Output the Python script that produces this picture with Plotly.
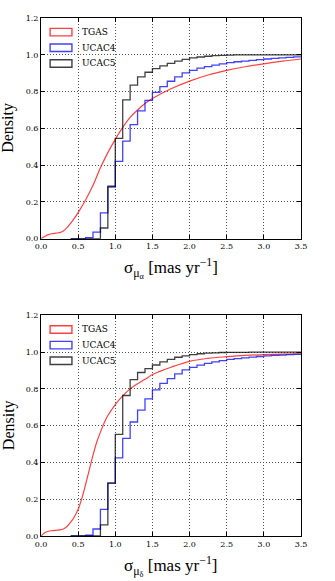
import plotly.graph_objects as go
from plotly.subplots import make_subplots

# bin edges of the cumulative step histograms (0.1 mas/yr bins, 0.4 .. 3.5)
edges = [round(0.4 + 0.1 * i, 1) for i in range(32)]

# --- proper-motion error in RA (top panel) ---
ucac4_alpha = [0, 0, 0.005, 0.036, 0.14, 0.28, 0.42, 0.53, 0.62, 0.695, 0.752,
               0.796, 0.827, 0.856, 0.88, 0.902, 0.915, 0.927, 0.936, 0.944,
               0.951, 0.957, 0.962, 0.966, 0.97, 0.974, 0.977, 0.98, 0.983,
               0.986, 0.989]
ucac5_alpha = [0, 0, 0, 0, 0.058, 0.285, 0.545, 0.755, 0.835, 0.88, 0.905,
               0.925, 0.94, 0.953, 0.965, 0.975, 0.983, 0.988, 0.992, 0.995,
               0.997, 0.998, 0.999, 0.999, 0.999, 1.0, 1.0, 1.0, 1.0, 1.0, 1.0]
tgas_x_alpha = [0, 0.05, 0.1, 0.15, 0.2, 0.25, 0.3, 0.35, 0.4, 0.45, 0.5, 0.6,
                0.7, 0.8, 0.9, 1.0, 1.1, 1.2, 1.3, 1.4, 1.5, 1.75, 2.0, 2.25,
                2.5, 2.75, 3.0, 3.25, 3.5]
tgas_alpha = [0, 0.012, 0.022, 0.027, 0.03, 0.033, 0.042, 0.06, 0.085, 0.112,
              0.142, 0.21, 0.29, 0.385, 0.468, 0.54, 0.605, 0.66, 0.70, 0.735,
              0.762, 0.815, 0.857, 0.89, 0.915, 0.935, 0.951, 0.965, 0.977]

# --- proper-motion error in Dec (bottom panel) ---
ucac4_delta = [0, 0, 0.004, 0.038, 0.145, 0.287, 0.425, 0.531, 0.62, 0.685,
               0.746, 0.795, 0.83, 0.856, 0.882, 0.903, 0.917, 0.929, 0.939,
               0.947, 0.954, 0.96, 0.965, 0.969, 0.973, 0.976, 0.979, 0.982,
               0.984, 0.986, 0.988]
ucac5_delta = [0, 0, 0, 0, 0.06, 0.287, 0.553, 0.764, 0.85, 0.889, 0.91,
               0.93, 0.947, 0.961, 0.972, 0.98, 0.986, 0.991, 0.994, 0.996,
               0.998, 0.999, 0.999, 0.999, 1.0, 1.0, 1.0, 1.0, 1.0, 1.0, 1.0]
tgas_x_delta = [0, 0.05, 0.1, 0.15, 0.2, 0.25, 0.3, 0.35, 0.4, 0.45, 0.5, 0.55,
                0.6, 0.65, 0.7, 0.75, 0.8, 0.85, 0.9, 1.0, 1.1, 1.2, 1.3, 1.4,
                1.5, 1.6, 1.75, 2.0, 2.25, 2.5, 2.75, 3.0, 3.25, 3.5]
tgas_delta = [0, 0.018, 0.026, 0.029, 0.031, 0.033, 0.038, 0.052, 0.075, 0.105,
              0.145, 0.205, 0.28, 0.36, 0.44, 0.51, 0.565, 0.615, 0.655, 0.715,
              0.762, 0.8, 0.828, 0.852, 0.878, 0.895, 0.918, 0.95, 0.966, 0.975,
              0.982, 0.986, 0.989, 0.991]

labels = ["TGAS", "UCAC4", "UCAC5"]
colors = ["rgba(255,0,0,0.75)", "rgba(0,0,255,0.75)", "rgba(0,0,0,0.75)"]
xlabels = ["σ<sub>μ<sub>α</sub></sub> [mas yr<sup>−1</sup>]",
           "σ<sub>μ<sub>δ</sub></sub> [mas yr<sup>−1</sup>]"]

SERIF = "Liberation Serif"
TICKS = "DejaVu Serif"

fig = make_subplots(rows=2, cols=1, vertical_spacing=0.148)

panels = [(tgas_x_alpha, tgas_alpha, ucac4_alpha, ucac5_alpha),
          (tgas_x_delta, tgas_delta, ucac4_delta, ucac5_delta)]

for r, (tx, ty, u4, u5) in enumerate(panels, start=1):
    fig.add_trace(go.Scatter(x=tx, y=ty, mode="lines", line_shape="spline",
                             line=dict(color=colors[0], width=1.2),
                             showlegend=False), row=r, col=1)
    for vals, c in [(u4, colors[1]), (u5, colors[2])]:
        fig.add_trace(go.Scatter(x=edges, y=vals + vals[-1:], mode="lines",
                                 line_shape="hv",
                                 line=dict(color=c, width=1.3),
                                 showlegend=False), row=r, col=1)

    sfx = "" if r == 1 else str(r)
    # legend drawn as open patches like the matplotlib original
    for i, (lab, c) in enumerate(zip(labels, colors)):
        top = 0.953 - 0.071 * i
        fig.add_shape(type="rect", xref=f"x{sfx} domain", yref=f"y{sfx} domain",
                      x0=0.035, x1=0.119, y0=top - 0.034, y1=top,
                      line=dict(color=c, width=1.4), fillcolor="rgba(0,0,0,0)")
        fig.add_annotation(xref=f"x{sfx} domain", yref=f"y{sfx} domain",
                           x=0.15, y=top - 0.017, text=lab, showarrow=False,
                           xanchor="left", yanchor="middle",
                           font=dict(family=TICKS, size=9, color="black"))

    fig.add_annotation(xref=f"x{sfx} domain", yref=f"y{sfx} domain",
                       x=0.5, y=-0.135, text=xlabels[r - 1], showarrow=False,
                       xanchor="center", yanchor="middle",
                       font=dict(family=SERIF, size=17, color="black"))
    fig.add_annotation(xref=f"x{sfx} domain", yref=f"y{sfx} domain",
                       x=-0.125, y=0.5, text="Density", textangle=-90,
                       showarrow=False, xanchor="center", yanchor="middle",
                       font=dict(family=SERIF, size=16, color="black"))

axis_style = dict(showline=True, linecolor="black", linewidth=1, mirror="ticks",
                  ticks="inside", ticklen=4, tickcolor="black", zeroline=False,
                  showgrid=True, gridcolor="#555", gridwidth=0.6,
                  griddash="1px,2px", tickformat=".1f",
                  tickfont=dict(family=TICKS, size=8, color="black"))

fig.update_xaxes(range=[0, 3.5], dtick=0.5, **axis_style)
fig.update_yaxes(range=[0, 1.2], dtick=0.2, **axis_style)

fig.update_layout(width=335, height=581,
                  margin=dict(l=41, r=34, t=18, b=45),
                  paper_bgcolor="white", plot_bgcolor="white")

# drop the browser's default 8px body margin so the figure fills the window
fig.write_html("out.html", config={"displayModeBar": False},
               post_script="document.body.style.margin = '0';")
